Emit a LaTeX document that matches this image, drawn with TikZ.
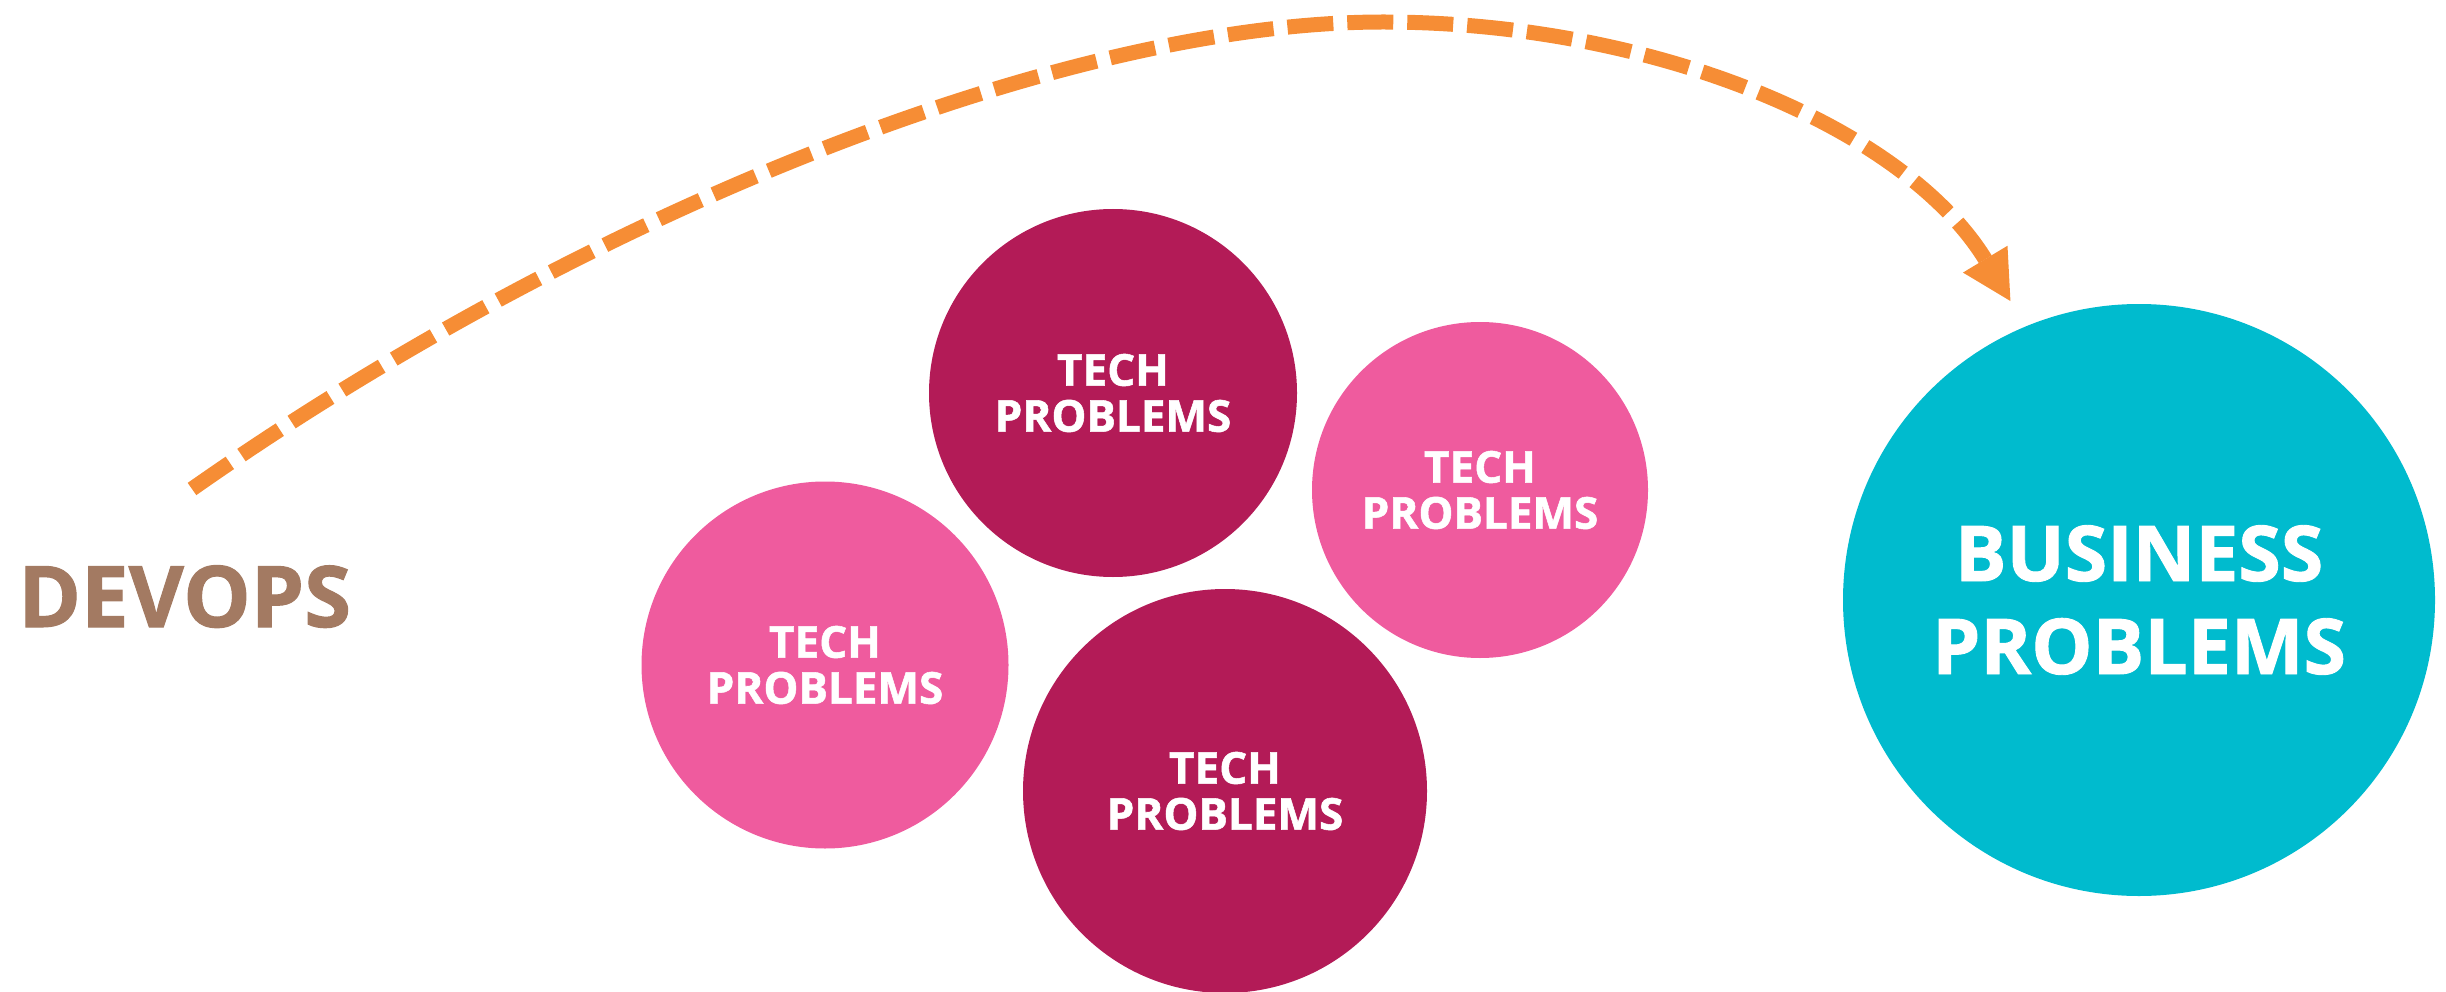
\documentclass[tikz,border=0pt]{standalone}
\usepackage{fontspec}
\setmainfont{Open Sans}[BoldFeatures={FakeBold=1.2}]
\usetikzlibrary{arrows.meta}

\definecolor{devopsbrown}{HTML}{A37A62}
\definecolor{techdark}{HTML}{B31B57}
\definecolor{techpink}{HTML}{EF5B9E}
\definecolor{bizcyan}{HTML}{00BBCE}
\definecolor{arcorange}{HTML}{F68D35}

\begin{document}
\begin{tikzpicture}[x=1pt, y=-1pt,
  bubble/.style={circle, inner sep=0pt, align=center, text=white,
    font=\bfseries\fontsize{44}{46}\selectfont},
  bigbubble/.style={circle, inner sep=0pt, align=center, text=white,
    font=\bfseries\fontsize{77}{93}\selectfont},
  journey/.style={draw=arcorange, line width=15pt, line cap=butt,
    dash pattern=on 46pt off 14pt,
    -{Triangle[length=50pt, width=48pt]}}
]
\useasboundingbox (0,0) rectangle (2446,992);

% the four technical problem bubbles
\node[bubble, fill=techdark, minimum size=368pt] (techtop)    at (1113,393) {TECH\\PROBLEMS};
\node[bubble, fill=techpink, minimum size=367pt] (techleft)   at (825,665)  {TECH\\PROBLEMS};
\node[bubble, fill=techdark, minimum size=404pt] (techbottom) at (1225,791) {TECH\\PROBLEMS};
\node[bubble, fill=techpink, minimum size=336pt] (techright)  at (1480,490) {TECH\\PROBLEMS};

% the business bubble
\node[bigbubble, fill=bizcyan, minimum size=592pt] (business) at (2139,600) {BUSINESS\\PROBLEMS};

% label at the start of the arc
\node[anchor=base west, inner sep=0pt, text=devopsbrown,
  font=\bfseries\fontsize{85}{85}\selectfont] (devops) at (18,627) {DEVOPS};

% dashed arc from DevOps over the tech bubbles to the business bubble
\coordinate (arcstart) at (192,489);
\coordinate (arctop)   at (1383,22);
\coordinate (arctip)   at (2011,302);
\draw[journey] (arcstart) .. controls (591,209) and (1068,22) .. (arctop)
  .. controls (1651,22) and (1905,126) .. (arctip);
\end{tikzpicture}
\end{document}
